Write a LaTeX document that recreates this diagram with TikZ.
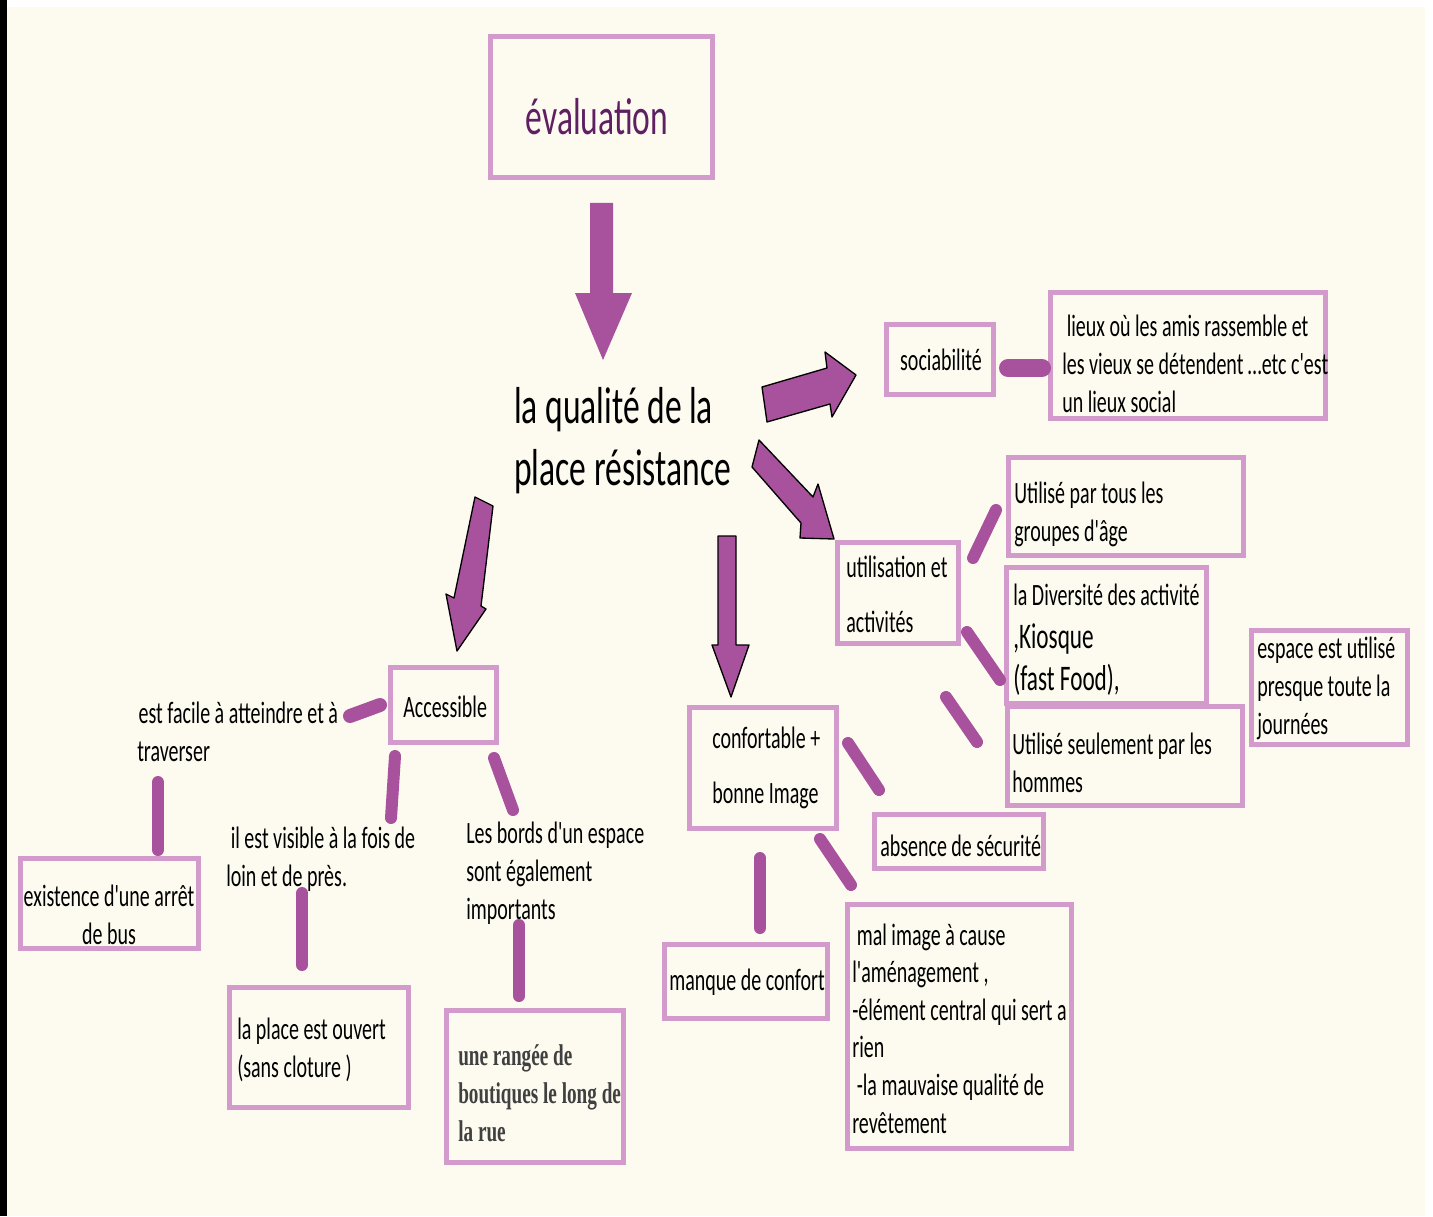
\documentclass[tikz,border=0pt]{standalone}
\usepackage{fontspec}
\setmainfont{Carlito}
\newfontfamily\cf{Carlito}[FakeStretch=0.645]
\newfontfamily\serc{Liberation Serif}[FakeStretch=0.64]
\usetikzlibrary{fit}
\definecolor{bgc}{RGB}{253,251,240}
\definecolor{boxc}{RGB}{211,155,203}
\definecolor{purp}{RGB}{168,82,158}
\definecolor{dpurp}{RGB}{94,31,99}
\tikzset{
  box/.style={draw=boxc, line width=3.75pt, inner sep=0pt},
  txt/.style={font=\cf\fontsize{23.25pt}{28.2pt}\selectfont, inner sep=0pt, align=left, anchor=base west},
  wide/.style={font=\cf\fontsize{23.25pt}{41.25pt}\selectfont},
  bar/.style={draw=purp, line width=9pt, line cap=round},
  barrow/.style={fill=purp, draw=black, line width=1pt, line join=round},
}
\begin{document}
\begin{tikzpicture}[x=0.75pt,y=-0.75pt]
\useasboundingbox (0,0) rectangle (1433,1216);
\fill[white] (0,0) rectangle (1433,1216);
\fill[black] (0,0) rectangle (7,1216);
\fill[bgc] (7,7) rectangle (1425,1216);

% boxes
\node[box, fit={(490,37)(712,178)}] (eval) {};
\node[box, fit={(886,324)(993,394)}] (soc) {};
\node[box, fit={(1050,292)(1325,418)}] (lieux) {};
\node[box, fit={(837,542)(958,643)}] (util) {};
\node[box, fit={(1008,457)(1243,555)}] (tous) {};
\node[box, fit={(1006,567)(1206,703)}] (div) {};
\node[box, fit={(1251,630)(1407,744)}] (esp) {};
\node[box, fit={(1007,706)(1242,805)}] (hom) {};
\node[box, fit={(689,707)(836,828)}] (conf) {};
\node[box, fit={(874,814)(1043,868)}] (abs) {};
\node[box, fit={(847,904)(1071,1148)}] (mal) {};
\node[box, fit={(664,944)(827,1018)}] (manq) {};
\node[box, fit={(390,667)(496,742)}] (acc) {};
\node[box, fit={(20,858)(198,948)}] (bus) {};
\node[box, fit={(229,987)(408,1107)}] (ouv) {};
\node[box, fit={(446,1010)(623,1162)}] (bout) {};

% texts (anchor = baseline of the last line)
\node[inner sep=0pt, anchor=base, text=dpurp, font=\cf\fontsize{39pt}{46pt}\selectfont] (evalT) at (597,135) {évaluation};
\node[txt, font=\cf\fontsize{39pt}{46.5pt}\selectfont] (qual) at (514,485) {la qualité de la\\place résistance};
\node[txt, anchor=base] (socT) at (941,370) {sociabilité};
\node[txt] (lieuxT) at (1062,412) {\ lieux où les amis rassemble et\\les vieux se détendent …etc c'est\\un lieux social};
\node[txt, wide] (utilT) at (846,632) {utilisation et\\activités};
\node[txt] (tousT) at (1014,541) {Utilisé par tous les\\groupes d'âge};
\node[txt] (divT) at (1013,690) {la Diversité des activité\\[4pt]{\fontsize{27pt}{31pt}\selectfont ,Kiosque}\\[3pt]{\fontsize{27pt}{31pt}\selectfont (fast Food),}};
\node[txt] (espT) at (1257,734) {espace est utilisé\\presque toute la\\journées};
\node[txt] (homT) at (1012,792) {Utilisé seulement par les\\hommes};
\node[txt, wide] (confT) at (712,803) {confortable +\\bonne Image};
\node[txt] (absT) at (880,856) {absence de sécurité};
\node[txt] (malT) at (852,1133) {\ mal image à cause\\l'aménagement ,\\-élément central qui sert a\\rien\\\ -la mauvaise qualité de\\revêtement};
\node[txt] (manqT) at (669,990) {manque de confort};
\node[txt] (accT) at (403,717) {Accessible};
\node[txt] (facT) at (137,761) {\hspace{1pt}est facile à atteindre et à\\traverser};
\node[txt, align=center, anchor=base] (busT) at (109,944) {existence d'une arrêt\\de bus};
\node[txt] (visT) at (226,886) {\ il est visible à la fois de\\loin et de près.};
\node[txt] (bordT) at (466,919) {Les bords d'un espace\\sont également\\importants};
\node[txt] (ouvT) at (237,1077) {la place est ouvert\\(sans cloture )};
\node[txt, font=\serc\bfseries\fontsize{22.5pt}{28.2pt}\selectfont, text=black!75] (boutT) at (458,1141) {une rangée de\\boutiques le long de\\la rue};

% block arrows
\fill[purp] (590,203) -- (613,203) -- (613,293) -- (632,293) -- (603,360) -- (575,293) -- (590,293) -- cycle;
\path[barrow] (762,387) -- (827,368) -- (825,352) -- (856,375) -- (832,417) -- (830,404) -- (767,422) -- cycle;
\path[barrow] (759,440) -- (813,497) -- (818,484) -- (834,539) -- (800,538) -- (801,523) -- (752,467) -- cycle;
\path[barrow] (475,497) -- (493,506) -- (481,606) -- (486,609) -- (457,651) -- (446,594) -- (454,598) -- cycle;
\path[barrow] (718,536) -- (736,536) -- (736,645) -- (749,645) -- (731,697) -- (712,645) -- (718,645) -- cycle;

% connector bars
\coordinate (b1s) at (1008,368); \coordinate (b1e) at (1042,368);
\coordinate (b2s) at (973,558);  \coordinate (b2e) at (996,510);
\coordinate (b3s) at (967,632);  \coordinate (b3e) at (1000,680);
\coordinate (b4s) at (946,697);  \coordinate (b4e) at (977,742);
\coordinate (b5s) at (848,743);  \coordinate (b5e) at (879,790);
\coordinate (b6s) at (820,839);  \coordinate (b6e) at (851,885);
\coordinate (b7s) at (760,858);  \coordinate (b7e) at (760,928);
\coordinate (b8s) at (380,705);  \coordinate (b8e) at (350,716);
\coordinate (b9s) at (158,782);  \coordinate (b9e) at (158,850);
\coordinate (b10s) at (395,756); \coordinate (b10e) at (391,818);
\coordinate (b11s) at (494,758); \coordinate (b11e) at (513,810);
\coordinate (b12s) at (302,893); \coordinate (b12e) at (302,965);
\coordinate (b13s) at (519,925); \coordinate (b13e) at (519,996);

\draw[bar, line width=13.5pt] (b1s) -- (b1e);
\draw[bar] (b2s) -- (b2e);
\draw[bar] (b3s) -- (b3e);
\draw[bar] (b4s) -- (b4e);
\draw[bar] (b5s) -- (b5e);
\draw[bar] (b6s) -- (b6e);
\draw[bar] (b7s) -- (b7e);
\draw[bar, line width=10.5pt] (b8s) -- (b8e);
\draw[bar] (b9s) -- (b9e);
\draw[bar] (b10s) -- (b10e);
\draw[bar] (b11s) -- (b11e);
\draw[bar] (b12s) -- (b12e);
\draw[bar] (b13s) -- (b13e);
\end{tikzpicture}
\end{document}
